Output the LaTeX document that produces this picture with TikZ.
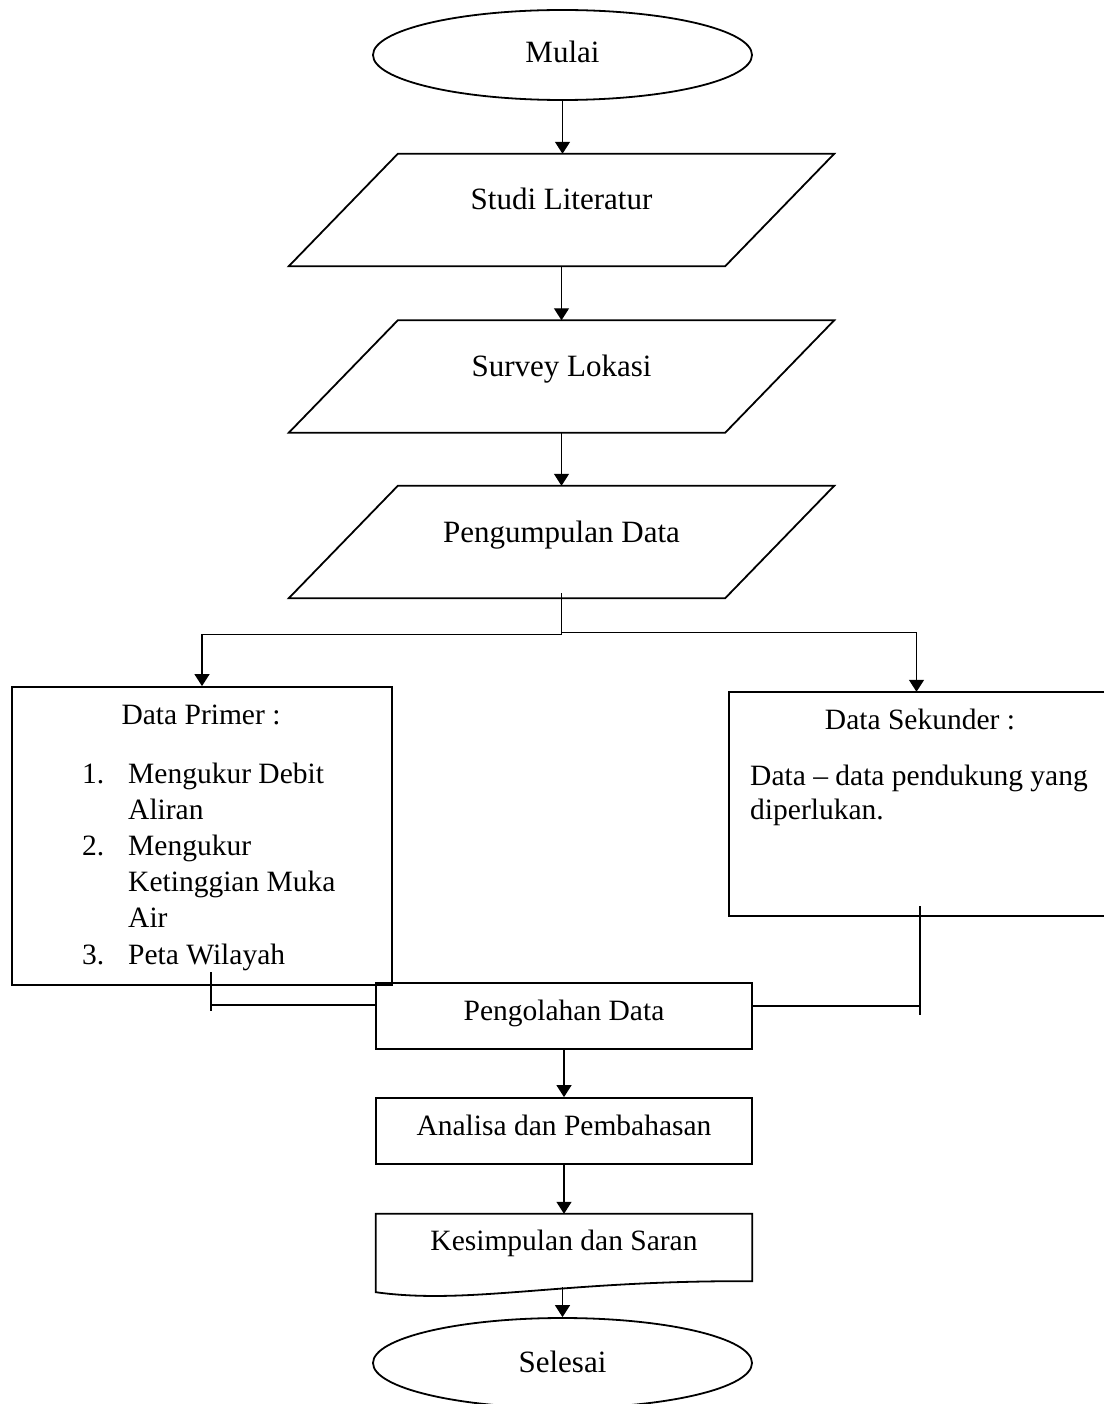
\documentclass[tikz,border=0pt]{standalone}
\usepackage{fontspec}
\setmainfont{Liberation Serif}
\usetikzlibrary{shapes.geometric,arrows.meta,calc}
\begin{document}
\begin{tikzpicture}[x=1pt,y=-1pt,
  shapeline/.style={line width=1.8pt, line join=miter},
  conn/.style={line width=1.3pt},
  bigtxt/.style={font=\fontsize{31}{37}\selectfont},
  txt/.style={font=\fontsize{29.5}{36}\selectfont},
  arr/.style={conn, -{Triangle[width=15pt,length=12pt]}},
  term/.style={ellipse, draw, shapeline, minimum width=379pt, minimum height=90pt, inner sep=0pt, bigtxt},
  para/.style={minimum width=436pt, minimum height=112pt, inner sep=0pt, text height=10pt, text depth=10pt, bigtxt},
  procbox/.style={draw, shapeline, minimum width=376pt, minimum height=66pt, inner sep=0pt, text height=8pt, text depth=0pt, txt},
  plain/.style={inner sep=0pt, txt},
  ]
\useasboundingbox (0,0) rectangle (1104,1404);

% terminals
\node[term, text height=16pt, text depth=0pt] (start) at (562.5,55) {Mulai};

% parallelograms
\node[para] (p1) at (561.5,210) {Studi Literatur};
\node[para] (p2) at (561.5,376.5) {Survey Lokasi};
\node[para] (p3) at (561.5,542) {Pengumpulan Data};
\foreach \p in {p1,p2,p3}{
  \draw[shapeline] ([xshift=54.5pt]\p.north west) -- ([xshift=54.5pt]\p.north east)
    -- ([xshift=-54.5pt]\p.south east) -- ([xshift=-54.5pt]\p.south west) -- cycle;
}

% data primer
\node[draw, shapeline, minimum width=380pt, minimum height=298pt, inner sep=0pt] (dp) at (202,836) {};
\node[plain, anchor=base] (dpt) at (201,724) {Data Primer :};
\node[plain, anchor=base west] (n1) at (82,783) {1.};
\node[plain, anchor=base west] (i1a) at (128,783) {Mengukur Debit};
\node[plain, anchor=base west] (i1b) at (128,819) {Aliran};
\node[plain, anchor=base west] (n2) at (82,855) {2.};
\node[plain, anchor=base west] (i2a) at (128,855) {Mengukur};
\node[plain, anchor=base west] (i2b) at (128,891) {Ketinggian Muka};
\node[plain, anchor=base west] (i2c) at (128,927) {Air};
\node[plain, anchor=base west] (n3) at (82,964) {3.};
\node[plain, anchor=base west] (i3) at (128,964) {Peta Wilayah};

% data sekunder (right side runs off the page)
\node[minimum width=375pt, minimum height=224pt, inner sep=0pt] (ds) at (916.5,804) {};
\draw[shapeline] (ds.north east) -- (ds.north west) -- (ds.south west) -- (ds.south east);
\node[plain, anchor=base] (dst) at (920,729) {Data Sekunder :};
\node[plain, anchor=base west] (ds1) at (750,785) {Data -- data pendukung yang};
\node[plain, anchor=base west] (ds2) at (750,819) {diperlukan.};

% processes
\node[procbox] (pg) at (564,1016) {Pengolahan Data};
\node[procbox] (an) at (564,1131) {Analisa dan Pembahasan};
\node[minimum width=376pt, minimum height=67pt, inner sep=0pt, text height=5pt, text depth=0pt, txt] (ks) at (564,1247.5) {Kesimpulan dan Saran};
\draw[shapeline] (ks.north west) -- (ks.north east) -- (ks.south east)
  .. controls +(-192,-1) and +(94,13) .. ([yshift=-11pt]ks.south west) -- cycle;

\node[term, text height=18pt, text depth=0pt] (end) at (562.5,1363) {Selesai};

% connectors
\draw[arr] (start.south) -- (start.south |- p1.north);
\draw[arr] (p1.south) -- (p2.north);
\draw[arr] (p2.south) -- (p3.north);

\coordinate (j) at ([yshift=-36pt]p3.south);
\draw[conn] ([yshift=5pt]p3.south) -- (j);
\draw[arr] (j) -| (dp.north);
\draw[arr] ([yshift=2pt]j) -| (ds.north);

\coordinate (lt) at (211,1005);
\draw[conn] ([yshift=33pt]lt) -- ([yshift=-6pt]lt);
\draw[conn] (lt) -- (pg.west |- lt);
\coordinate (rt) at (920,1006);
\draw[conn] ([yshift=100pt]rt) -- ([yshift=-9pt]rt);
\draw[conn] (pg.east |- rt) -- (rt);

\draw[arr] (pg.south) -- (an.north);
\draw[arr] (an.south) -- (ks.north);
\draw[arr] ([yshift=-6pt]end.north |- ks.south) -- (end.north);
\end{tikzpicture}
\end{document}
